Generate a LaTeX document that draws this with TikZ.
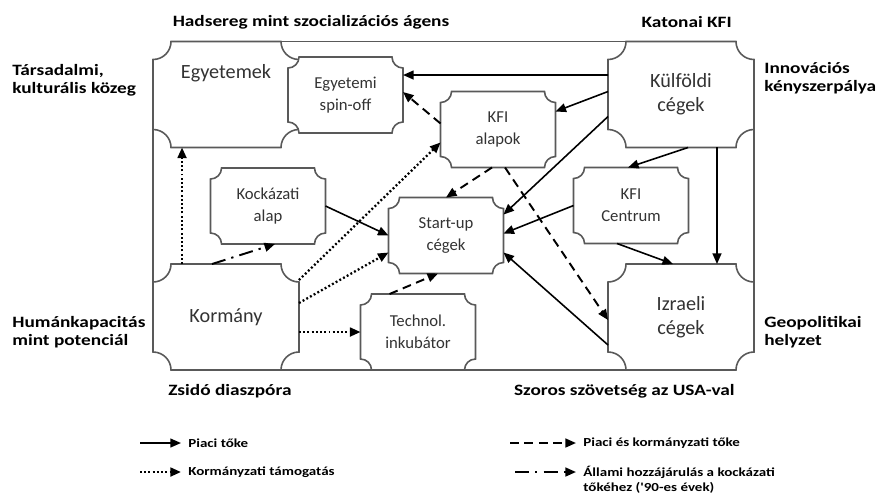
\documentclass[tikz,border=0pt]{standalone}
\usepackage{fontspec}
\setmainfont{Carlito}
\newfontfamily\lblfont{Carlito}[FakeStretch=1.22]
\usepackage{tikz}
\usetikzlibrary{arrows.meta,positioning,calc}

\makeatletter
\newdimen\plqxa \newdimen\plqya \newdimen\plqxb \newdimen\plqyb \newdimen\plqr
\pgfkeys{/pgf/plaque radius/.initial=6pt}
\pgfdeclareshape{plaque}{
  \inheritsavedanchors[from=rectangle]
  \inheritanchorborder[from=rectangle]
  \inheritanchor[from=rectangle]{center}
  \inheritanchor[from=rectangle]{text}
  \inheritanchor[from=rectangle]{base}
  \inheritanchor[from=rectangle]{mid}
  \inheritanchor[from=rectangle]{north}
  \inheritanchor[from=rectangle]{south}
  \inheritanchor[from=rectangle]{east}
  \inheritanchor[from=rectangle]{west}
  \inheritanchor[from=rectangle]{north east}
  \inheritanchor[from=rectangle]{north west}
  \inheritanchor[from=rectangle]{south east}
  \inheritanchor[from=rectangle]{south west}
  \backgroundpath{%
    \southwest \plqxa=\pgf@x \plqya=\pgf@y
    \northeast \plqxb=\pgf@x \plqyb=\pgf@y
    \pgfmathsetlength\plqr{\pgfkeysvalueof{/pgf/plaque radius}}%
    \pgfpathmoveto{\pgfqpoint{\dimexpr\plqxa+\plqr\relax}{\plqyb}}%
    \pgfpathlineto{\pgfqpoint{\dimexpr\plqxb-\plqr\relax}{\plqyb}}%
    \pgfpatharc{180}{270}{\plqr}%
    \pgfpathlineto{\pgfqpoint{\plqxb}{\dimexpr\plqya+\plqr\relax}}%
    \pgfpatharc{90}{180}{\plqr}%
    \pgfpathlineto{\pgfqpoint{\dimexpr\plqxa+\plqr\relax}{\plqya}}%
    \pgfpatharc{0}{90}{\plqr}%
    \pgfpathlineto{\pgfqpoint{\plqxa}{\dimexpr\plqyb-\plqr\relax}}%
    \pgfpatharc{270}{360}{\plqr}%
    \pgfpathclose
  }
}
\makeatother

\begin{document}
\begin{tikzpicture}[
  x=0.02cm, y=-0.02cm,
  bigbox/.style={shape=plaque, draw=black!65, fill=white, line width=0.9pt,
                 minimum width=2.92cm, minimum height=2.12cm, inner sep=0pt,
                 outer sep=0pt, plaque radius=0.36cm, align=center,
                 font=\fontsize{11.5}{13.5}\selectfont, text=black!80},
  smallbox/.style={bigbox, minimum width=2.3cm, minimum height=1.52cm,
                   plaque radius=0.22cm, font=\fontsize{9.5}{12.5}\selectfont},
  sidelbl/.style={inner sep=0pt, align=left,
                  font=\lblfont\bfseries\fontsize{9}{10}\selectfont},
  legtext/.style={inner sep=0pt, anchor=west,
                  font=\lblfont\bfseries\fontsize{7}{9}\selectfont},
  frameline/.style={draw=black!65, line width=0.9pt},
  marketarr/.style={-{Triangle[length=6pt,width=5pt]}, line width=0.9pt},
  mixedarr/.style={marketarr, line width=1.1pt, dash pattern=on 5pt off 3.2pt},
  govarr/.style={marketarr, line width=1.3pt, dash pattern=on 1.1pt off 1.3pt},
  ventarr/.style={marketarr, line width=1.1pt,
                  dash pattern=on 8pt off 3.5pt on 1.3pt off 3.5pt}
]
\useasboundingbox (0,0) rectangle (881,495);

% boxes
\node[bigbox, label={[anchor=center, yshift=-0.64cm, text=black!80,
      font=\fontsize{11.5}{13.5}\selectfont]north:Egyetemek}] (egyetemek) at (226,94.5) {};
\node[smallbox] (spinoff) at (345.5,95) {Egyetemi\\spin-off};
\node[bigbox] (kulfoldi) at (681,94.5) {Külföldi\\cégek};
\node[smallbox] (alapok) at (498,129.5) {KFI\\alapok};
\node[smallbox] (centrum) at (631,205.5) {KFI\\Centrum};
\node[smallbox] (startup) at (446,235.5) {Start-up\\cégek};
\node[smallbox] (kockazati) at (268,206) {Kockázati\\alap};
\node[bigbox] (kormany) at (226,317) {Kormány};
\node[smallbox] (technol) at (418,332) {Technol.\\inkubátor};
\node[bigbox] (izraeli) at (681,317) {Izraeli\\cégek};

% frame
\draw[frameline] (egyetemek.north) -- (kulfoldi.north);
\draw[frameline] (egyetemek.west) -- (kormany.west);
\draw[frameline] (kormany.south) -- (izraeli.south);
\draw[frameline] (kulfoldi.east) -- (izraeli.east);

% side labels
\node[sidelbl] (army) at (311,22) {Hadsereg mint szocializációs ágens};
\node[sidelbl, anchor=east] (military) at (732,22) {Katonai KFI};
\node[sidelbl, anchor=west] (social) at (12,80) {Társadalmi,\\kulturális közeg};
\node[sidelbl, anchor=west] (innov) at (764,78) {Innovációs\\kényszerpálya};
\node[sidelbl, anchor=west] (human) at (12,332) {Humánkapacitás\\mint potenciál};
\node[sidelbl, anchor=west] (geopol) at (764,332) {Geopolitikai\\helyzet};
\node[sidelbl, anchor=west] (diaspora) at (168,391) {Zsidó diaszpóra};
\node[sidelbl, anchor=east] (usa) at (735,391) {Szoros szövetség az USA-val};

% market capital
\draw[marketarr] ($(kulfoldi.north west)+(0,33.5)$) -- ($(spinoff.north east)+(0,18)$);
\draw[marketarr] ($(kulfoldi.north west)+(0,50)$) -- ($(alapok.north east)+(0,20)$);
\draw[marketarr] ($(kulfoldi.north west)+(0,75)$) -- ($(startup.north east)+(0,17)$);
\draw[marketarr] ($(kulfoldi.south)+(7,0)$) -- ($(centrum.north)+(-3,0)$);
\draw[marketarr] ($(kulfoldi.south east)+(-37,0)$) -- ($(izraeli.north east)+(-37,0)$);
\draw[marketarr] (centrum.west) -- ($(startup.east)+(0,-2)$);
\draw[marketarr] ($(centrum.south)+(-14,0)$) -- ($(izraeli.north)+(-8,0)$);
\draw[marketarr] ($(izraeli.south west)+(0,-25)$) -- ($(startup.south east)+(0,-21)$);
\draw[marketarr] (kockazati.east) -- (startup.west);

% market and government capital
\draw[mixedarr] ($(alapok.west)+(0,-6)$) -- ($(spinoff.east)+(0,-3)$);
\draw[mixedarr] ($(alapok.south)+(-6,0)$) -- (startup.north);
\draw[mixedarr] ($(alapok.south)+(7,0)$) -- ($(izraeli.west)+(0,3)$);
\draw[mixedarr] ($(technol.north west)+(29,0)$) -- ($(startup.south)+(-8,0)$);

% government support
\draw[govarr] ($(kormany.north east)+(0,16)$) -- ($(alapok.south west)+(0,-25)$);
\draw[govarr] ($(kormany.east)+(0,-14)$) -- ($(startup.south west)+(0,-21)$);
\draw[govarr] (kormany.east |- technol.west) -- (technol.west);
\draw[govarr] ($(kormany.north west)+(29,0)$) -- ($(egyetemek.south west)+(29,0)$);

% state venture contribution
\draw[ventarr] ($(kormany.north west)+(59,0)$) -- ($(kockazati.south)+(7,0)$);

% legend
\node[legtext] (leg1) at (188,443) {Piaci tőke};
\node[legtext] (leg2) at (188,472) {Kormányzati támogatás};
\node[legtext] (leg3) at (583,443) {Piaci és kormányzati tőke};
\node[legtext] (leg4) at (583,472) {Állami hozzájárulás a kockázati};
\node[legtext] (leg4b) at (583,488) {tőkéhez ('90-es évek)};
\coordinate (leg1s) at (140,443);
\coordinate (leg2s) at (140,472);
\coordinate (leg3s) at (510,443);
\coordinate (leg4s) at (515,472);
\draw[marketarr] (leg1s) -- ([xshift=-4pt]leg1.west);
\draw[govarr] (leg2s) -- ([xshift=-4pt]leg2.west);
\draw[mixedarr] (leg3s) -- ([xshift=-4pt]leg3.west);
\draw[ventarr] (leg4s) -- ([xshift=-4pt]leg4.west);
\end{tikzpicture}
\end{document}
